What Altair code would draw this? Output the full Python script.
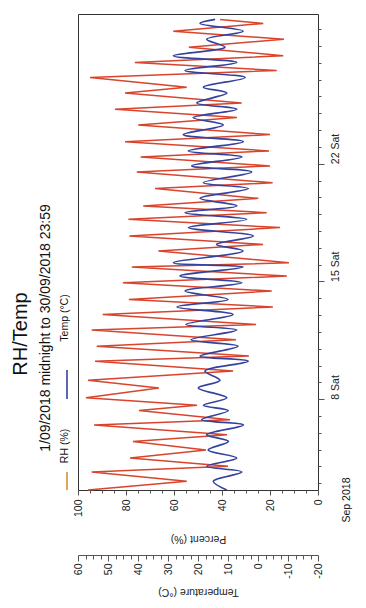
import altair as alt
import pandas as pd

# ---- data (day of September, fractional) ----
rh_day = [2.60, 3.12, 3.67, 4.01, 4.50, 4.98, 5.49, 5.89, 6.47, 6.78,
          7.32, 7.64, 8.08, 8.67, 9.12, 9.67, 10.26, 10.56, 11.15, 11.53,
          12.11, 12.44, 13.03, 13.48, 13.93, 14.43, 14.92, 15.32, 15.86, 16.11,
          16.81, 17.20, 17.70, 18.20, 18.69, 19.09, 19.49, 19.94, 20.52, 20.87,
          21.51, 21.87, 22.40, 22.76, 23.31, 23.73, 24.30, 24.74, 25.24, 25.61,
          26.20, 26.55, 27.12, 27.54, 28.02, 28.42, 28.93, 29.40, 29.88, 30.34,
          30.58]
rh_val = [95.8, 54.7, 94.3, 37.5, 78.3, 46.7, 77.1, 37.9, 93.3, 36.7,
          74.6, 50.4, 96.7, 66.3, 95.8, 35.4, 92.9, 28.8, 92.2, 34.2,
          94.3, 25.8, 89.7, 18.8, 78.8, 19.3, 81.3, 13.0, 77.6, 12.1,
          66.5, 22.9, 78.6, 15.8, 79.0, 21.4, 72.8, 24.9, 67.9, 18.9,
          75.5, 20.0, 73.9, 20.4, 80.4, 20.0, 74.9, 33.8, 84.6, 31.8,
          80.4, 54.7, 95.0, 17.2, 76.3, 14.5, 53.8, 14.2, 60.3, 22.8,
          40.8]

temp_day = [2.60, 3.12, 3.67, 4.01, 4.50, 4.98, 5.49, 5.89, 6.47, 6.78,
            7.32, 7.64, 8.08, 8.67, 9.12, 9.67, 10.26, 10.56, 11.15, 11.53,
            12.11, 12.44, 13.03, 13.48, 13.93, 14.43, 14.92, 15.32, 15.86, 16.11,
            16.81, 17.20, 17.70, 18.20, 18.69, 19.09, 19.49, 19.94, 20.52, 20.87,
            21.51, 21.87, 22.40, 22.76, 23.31, 23.73, 24.30, 24.74, 25.24, 25.61,
            26.20, 26.55, 27.12, 27.54, 28.02, 28.42, 28.93, 29.40, 29.88, 30.34,
            30.58]
temp_val = [10.4, 14.9, 5.4, 17.1, 7.1, 16.6, 9.9, 17.1, 4.9, 18.8,
            9.9, 18.2, 10.4, 19.9, 12.7, 17.7, 3.3, 19.3, 6.7, 22.3,
            7.1, 24.0, 8.3, 27.0, 10.0, 24.3, 5.4, 26.0, 5.0, 28.2,
            5.0, 13.8, 1.6, 23.2, 3.8, 24.3, 7.1, 19.3, 3.2, 18.2,
            2.1, 22.1, 5.4, 23.2, 4.9, 24.9, 11.6, 21.6, 7.1, 20.4,
            10.4, 18.2, 4.3, 24.3, 7.1, 28.2, 11.0, 17.1, 5.0, 19.3,
            14.3]

pct_ticks = list(range(0, 101, 5))
temp_ticks = [v * 2.5 for v in range(-8, 25)]
day_ticks = list(range(3, 31))
day_label_days = [8, 15, 22]
day_label_text = ["8 Sat", "15 Sat", "22 Sat"]
start_label = "Sep 2018"
title_text = "RH/Temp"
subtitle_text = "1/09/2018 midnight to 30/09/2018 23:59"
legend_labels = ["RH (%)", "Temp (°C)"]

# ---- styling ----
W, H = 240, 476
DAY_DOMAIN = [2.6, 30.9]
FONT = "Liberation Sans"
RED = "#d9442c"
BLUE = "#33429e"
LEG_ORANGE = "#dc8c35"
INK = "#222222"

rh_df = pd.DataFrame({"day": rh_day, "rh": rh_val, "i": list(range(len(rh_day)))})
tp_df = pd.DataFrame({"day": temp_day, "temp": temp_val, "i": list(range(len(temp_day)))})

day_expr = " : ".join(f"datum.value == {d} ? '{t}'" for d, t in zip(day_label_days, day_label_text)) + " : ''"
major_days = "[" + ",".join(str(d) for d in day_label_days) + "]"

y_enc = alt.Y(
    "day:Q",
    scale=alt.Scale(domain=DAY_DOMAIN, nice=False, zero=False),
    axis=alt.Axis(
        orient="right", values=day_ticks, labelExpr=day_expr,
        labelAngle=270, labelAlign="left", labelBaseline="middle",
        labelPadding=11, labelFlush=False, labelOverlap=False,
        tickSize={"condition": {"test": f"indexof({major_days}, datum.value) >= 0", "value": 6}, "value": 3},
        tickColor="#555", domain=False, grid=False, title=None,
        labelFont=FONT, labelFontSize=10.5, labelColor=INK,
    ),
)

rh_line = alt.Chart(rh_df).mark_line(color=RED, strokeWidth=1.5).encode(
    x=alt.X(
        "rh:Q",
        scale=alt.Scale(domain=[0, 100], reverse=True, nice=False),
        axis=alt.Axis(
            orient="bottom", values=pct_ticks,
            labelExpr="datum.value % 20 == 0 ? '' + datum.value : ''",
            labelAngle=270, labelAlign="right", labelBaseline="middle",
            labelPadding=4, labelFlush=False, labelOverlap=False,
            tickSize={"condition": {"test": "datum.value % 20 == 0", "value": 5}, "value": 3},
            tickColor="#555", domain=False, grid=False,
            title="Percent (%)", titleAngle=180, titleY=48, titleBaseline="middle",
            labelFont=FONT, labelFontSize=10.5, labelColor=INK,
            titleFont=FONT, titleFontSize=10.5, titleFontWeight="normal", titleColor=INK,
        ),
    ),
    y=y_enc,
    order="i:Q",
)

temp_line = alt.Chart(tp_df).mark_line(color=BLUE, strokeWidth=1.7, interpolate="catmull-rom").encode(
    x=alt.X(
        "temp:Q",
        scale=alt.Scale(domain=[-20, 60], reverse=True, nice=False),
        axis=alt.Axis(
            orient="bottom", offset=65, values=temp_ticks,
            labelExpr="datum.value % 10 == 0 ? '' + datum.value : ''",
            labelAngle=270, labelAlign="right", labelBaseline="middle",
            labelPadding=2, labelFlush=False, labelOverlap=False,
            tickSize={"condition": {"test": "datum.value % 10 == 0", "value": 6}, "value": 4},
            tickColor="#555", domain=True, domainColor="#555", grid=False,
            title="Temperature (°C)", titleAngle=180, titleY=36, titleBaseline="middle",
            labelFont=FONT, labelFontSize=10.5, labelColor=INK,
            titleFont=FONT, titleFontSize=10.5, titleFontWeight="normal", titleColor=INK,
        ),
    ),
    y=y_enc,
    order="i:Q",
)


def text_layer(txt, x, y, size, angle=270):
    return alt.Chart(pd.DataFrame({"t": [txt]})).mark_text(
        angle=angle, align="center", baseline="middle", fontSize=size, font=FONT, color="#111"
    ).encode(x=alt.value(x), y=alt.value(y), text="t:N")


def legend_rule(color, y1, y2):
    return alt.Chart(pd.DataFrame({"a": [0]})).mark_rule(color=color, strokeWidth=1.6).encode(
        x=alt.value(-11), y=alt.value(y1), y2=alt.value(y2)
    )


chart = alt.layer(
    rh_line,
    temp_line,
    text_layer(title_text, -57, 320, 20),
    text_layer(subtitle_text, -32, 314, 14),
    text_layer(legend_labels[1], -13, 304, 10.5),
    legend_rule(BLUE, 356, 385),
    text_layer(legend_labels[0], -13, 432, 10.5),
    legend_rule(LEG_ORANGE, 458, 476),
    text_layer(start_label, 269, 486, 10.5),
).resolve_scale(x="independent").properties(
    width=W, height=H,
    padding={"left": 70, "top": 6, "right": 40, "bottom": 108},
    autosize=alt.AutoSizeParams(type="none"),
).configure_view(stroke="#333", strokeWidth=1)

chart.save("out.html", embed_options={"renderer": "svg", "actions": False})
